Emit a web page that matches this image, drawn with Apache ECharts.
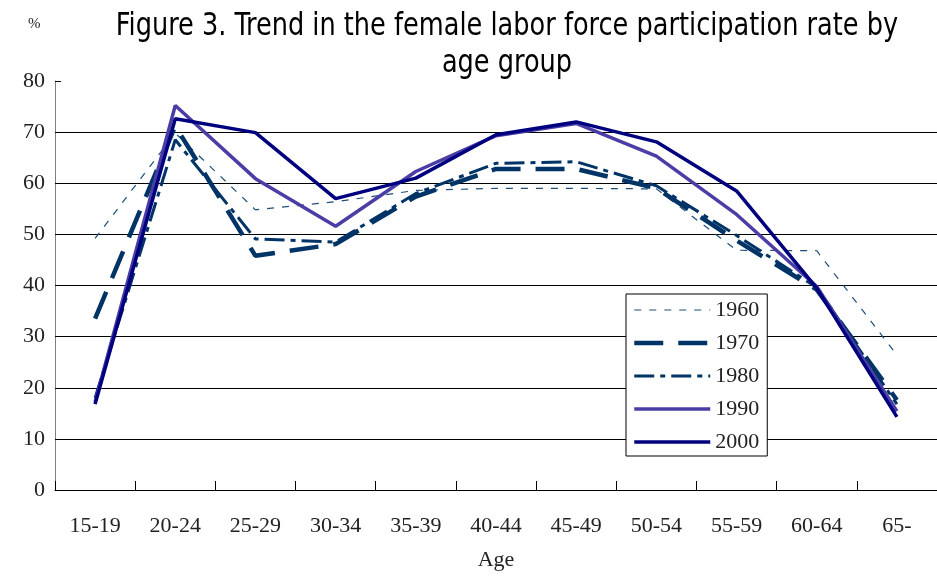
<!DOCTYPE html>
<html>
<head>
<meta charset="utf-8">
<script src="https://cdn.jsdelivr.net/npm/echarts@6/dist/echarts.min.js"></script>
<style>html,body{margin:0;padding:0;background:#fff}#c{width:937px;height:576px}</style>
</head>
<body>
<div id="c"></div>
<script>
var categories = ['15-19','20-24','25-29','30-34','35-39','40-44','45-49','50-54','55-59','60-64','65-'];
var yTicks = [0,10,20,30,40,50,60,70,80];
var s1960 = [49.2, 69.8, 54.8, 56.4, 58.6, 59.0, 59.0, 58.9, 46.9, 46.8, 26.4];
var s1970 = [33.5, 71.2, 45.8, 48.1, 57.4, 62.8, 62.8, 59.0, 48.8, 39.2, 17.6];
var s1980 = [18.0, 68.5, 49.1, 48.5, 58.0, 63.9, 64.2, 59.5, 49.8, 39.6, 16.8];
var s1990 = [17.2, 75.2, 60.9, 51.6, 62.3, 69.3, 71.7, 65.3, 53.9, 39.8, 15.4];
var s2000 = [16.8, 72.6, 69.9, 57.0, 61.0, 69.5, 72.0, 68.1, 58.5, 39.5, 14.3];
var seriesNames = ['1960','1970','1980','1990','2000'];
var titleLines = 'Figure 3. Trend in the female labor force participation rate by\nage group';

var serifFont = '"Liberation Serif", "DejaVu Serif", serif';
var titleFont = '"Liberation Sans Narrow", "DejaVu Sans Condensed", "Liberation Sans", sans-serif';

var styles = {
  '1960': {color: '#1f4e79', width: 1.2, type: [7, 8]},
  '1970': {color: '#003366', width: 4.5, type: [29, 15]},
  '1980': {color: '#003366', width: 3, type: [20, 6, 5, 6]},
  '1990': {color: '#4a3ea6', width: 3.5, type: 'solid'},
  '2000': {color: '#00007f', width: 3.5, type: 'solid'}
};
var dataMap = {'1960': s1960, '1970': s1970, '1980': s1980, '1990': s1990, '2000': s2000};

var chart = echarts.init(document.getElementById('c'), null, {renderer: 'canvas'});
var series = seriesNames.map(function (n) {
  var st = styles[n];
  return {
    name: n, type: 'line', data: dataMap[n], symbol: 'none', showSymbol: false,
    lineStyle: {color: st.color, width: st.width, type: st.type, cap: 'butt'},
    itemStyle: {color: st.color},
    emphasis: {disabled: true},
    animation: false
  };
});
var legendData = seriesNames.map(function (n) {
  var st = styles[n];
  return {
    name: n,
    itemStyle: {opacity: 0},
    lineStyle: {color: st.color, width: st.width, type: st.type, cap: 'butt'}
  };
});
chart.setOption({
  backgroundColor: '#ffffff',
  animation: false,
  graphic: [
    {
      type: 'text', x: 507, y: 8, scaleX: 0.89, scaleY: 1,
      style: {text: titleLines, textAlign: 'center', textVerticalAlign: 'top',
        font: '32px ' + titleFont, fill: '#000', lineHeight: 37}
    },
    {
      type: 'text', left: 28, top: 17,
      style: {text: '%', font: '15px ' + serifFont, fill: '#222'}
    }
  ],
  legend: {
    orient: 'vertical', left: 626, top: 294,
    backgroundColor: '#fff', borderColor: '#000', borderWidth: 1,
    padding: [5, 8, 3, 6],
    itemWidth: 76, itemHeight: 14, itemGap: 11,
    textStyle: {fontFamily: serifFont, fontSize: 22, color: '#222'},
    data: legendData
  },
  grid: {left: 55, right: -11, top: 81, bottom: 83, containLabel: false},
  xAxis: {
    type: 'category', data: categories, boundaryGap: true,
    name: 'Age', nameLocation: 'middle', nameGap: 59,
    nameTextStyle: {fontFamily: serifFont, fontSize: 22, color: '#222'},
    axisLine: {lineStyle: {color: '#000', width: 1}},
    axisTick: {show: true, inside: true, length: 9, lineStyle: {color: '#000'}},
    axisLabel: {fontFamily: serifFont, fontSize: 22, color: '#222', margin: 25, interval: 0},
    splitLine: {show: false}
  },
  yAxis: {
    type: 'value', min: 0, max: 80, interval: 10,
    axisLine: {show: true, lineStyle: {color: '#808080', width: 1}},
    axisTick: {show: true, inside: true, length: 6, lineStyle: {color: '#000'}},
    axisLabel: {fontFamily: serifFont, fontSize: 22, color: '#222', margin: 10,
      formatter: function (v) { return yTicks.indexOf(v) >= 0 ? String(v) : ''; }},
    splitLine: {show: true, lineStyle: {color: ['rgba(0,0,0,0)', '#000', '#000', '#000', '#000', '#000', '#000', '#000', 'rgba(0,0,0,0)'], width: 1}}
  },
  series: series
});
</script>
</body>
</html>
